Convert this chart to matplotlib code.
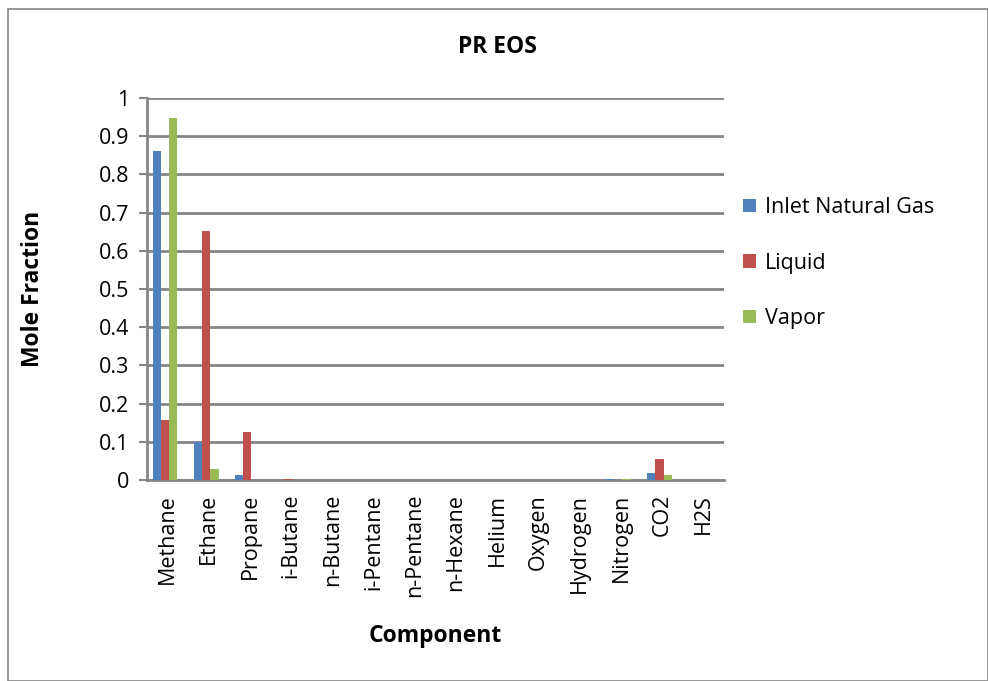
import matplotlib
matplotlib.use("Agg")
import matplotlib.pyplot as plt
import numpy as np
from matplotlib.patches import Rectangle

plt.rcParams['font.family'] = ['Open Sans', 'DejaVu Sans']

components = ["Methane", "Ethane", "Propane", "i-Butane", "n-Butane", "i-Pentane",
              "n-Pentane", "n-Hexane", "Helium", "Oxygen", "Hydrogen", "Nitrogen",
              "CO2", "H2S"]
inlet = [0.86, 0.10, 0.012, 0.0, 0.0, 0.0, 0.0, 0.0, 0.0, 0.0, 0.0, 0.003, 0.018, 0.0]
liquid = [0.157, 0.652, 0.126, 0.002, 0.001, 0.0, 0.0, 0.0, 0.0, 0.0, 0.0, 0.0, 0.054, 0.0]
vapor = [0.948, 0.029, 0.0, 0.0, 0.0, 0.0, 0.0, 0.0, 0.0, 0.0, 0.0, 0.003, 0.012, 0.0]
series_names = ["Inlet Natural Gas", "Liquid", "Vapor"]
colors = ["#4F81BD", "#C0504D", "#9BBB59"]
yticks = [0, 0.1, 0.2, 0.3, 0.4, 0.5, 0.6, 0.7, 0.8, 0.9, 1]

W, H = 988, 681
fig = plt.figure(figsize=(W / 100, H / 100), dpi=100)
fig.patches.append(Rectangle((8 / W, 0), 1 - 8 / W, 1 - 9 / H, transform=fig.transFigure,
                             fill=False, edgecolor="#868686", linewidth=1.2))

ax = fig.add_axes([147 / W, 1 - 480 / H, (724 - 147) / W, (480 - 98) / H])
x = np.arange(len(components))
w = 0.2
shift = -0.065
for i, (vals, name, c) in enumerate(zip([inlet, liquid, vapor], series_names, colors)):
    ax.bar(x + shift + (i - 1) * w, vals, width=w, color=c, label=name, zorder=3)

ax.set_xlim(-0.5, len(components) - 0.5)
ax.set_ylim(0, 1)
ax.set_yticks(yticks)
ax.set_yticklabels([f"{t:g}" for t in yticks], fontsize=15.5)
ax.set_xticks(x)
ax.set_xticklabels(components, rotation=90, fontsize=15.5)
ax.yaxis.grid(True, color="#868686", linewidth=2, zorder=0)
for s in ["top", "right"]:
    ax.spines[s].set_visible(False)
for s in ["left", "bottom"]:
    ax.spines[s].set_color("#868686")
    ax.spines[s].set_linewidth(2)
ax.tick_params(axis="y", length=6, width=1.5, color="#868686", pad=7)
ax.tick_params(axis="x", length=0, pad=10)

fig.text(497 / W, 1 - 47 / H, "PR EOS", fontsize=16.5, fontweight="bold",
         ha="center", va="center")
fig.text(33 / W, 1 - 289 / H, "Mole Fraction", fontsize=16.5, fontweight="bold",
         ha="center", va="center", rotation=90)
fig.text(435 / W, 1 - 636 / H, "Component", fontsize=16.5, fontweight="bold",
         ha="center", va="center")

ax.legend(loc="center left", bbox_to_anchor=(1.0, 0.568), frameon=False, fontsize=15.5,
          handlelength=0.6, handleheight=0.6, labelspacing=1.6, handletextpad=0.4)

fig.savefig("out.png", dpi=100)
